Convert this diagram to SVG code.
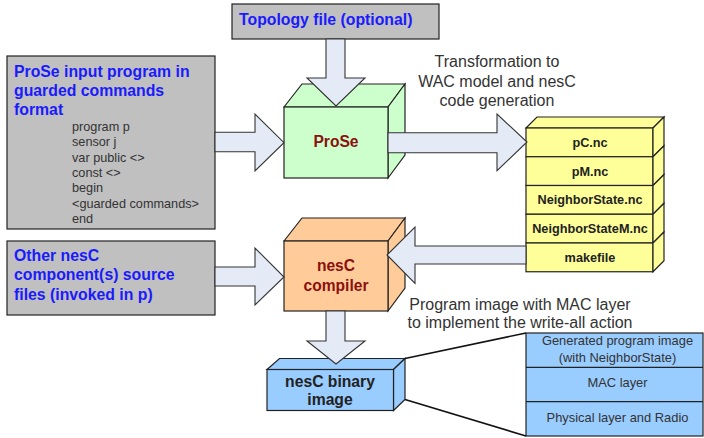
<svg xmlns="http://www.w3.org/2000/svg" width="704" height="438" viewBox="0 0 704 438">
<style>
.box{stroke:#222;stroke-width:1.2}
.gray{fill:#C0C0C0}
.green{fill:#CCFFCC}
.orange{fill:#FFCC99}
.yellow{fill:#FFFF99}
.blue{fill:#99CCFF}
.arrow{fill:#E4EBF6;stroke:#333;stroke-width:1.1;stroke-linejoin:miter}
.line{stroke:#111;stroke-width:1.6;fill:none}
text{font-family:"Liberation Sans",Arial,sans-serif}
.ttl{font-weight:bold;font-size:15.8px;fill:#1a1aff}
.code{font-size:12.7px;fill:#333}
.red{font-weight:bold;font-size:15.6px;fill:#8B1010;text-anchor:middle}
.file{font-weight:bold;font-size:12.7px;fill:#222;text-anchor:middle}
.note{font-size:16px;fill:#333;text-anchor:middle}
.layer{font-size:12.9px;fill:#333;text-anchor:middle}
.bin{font-weight:bold;font-size:15.7px;fill:#222;text-anchor:middle}
</style>

<g id="topology">
<rect class="box gray" x="232" y="4" width="207" height="35"/>
<text class="ttl" x="239" y="25">Topology file (optional)</text>
</g>

<g id="prose-input">
<rect class="box gray" x="7" y="56" width="208" height="173"/>
<text class="ttl" x="14" y="77">ProSe input program in</text>
<text class="ttl" x="14" y="96">guarded commands</text>
<text class="ttl" x="14" y="115">format</text>
<text class="code" x="72" y="131">program p</text>
<text class="code" x="72" y="146.3">sensor j</text>
<text class="code" x="72" y="161.6">var public &lt;&gt;</text>
<text class="code" x="72" y="176.9">const &lt;&gt;</text>
<text class="code" x="72" y="192.2">begin</text>
<text class="code" x="72" y="207.5">&lt;guarded commands&gt;</text>
<text class="code" x="72" y="222.8">end</text>
</g>

<g id="other-nesc">
<rect class="box gray" x="7" y="241" width="208" height="74"/>
<text class="ttl" x="14" y="261">Other nesC</text>
<text class="ttl" x="14" y="280">component(s) source</text>
<text class="ttl" x="14" y="299.5">files (invoked in p)</text>
</g>

<g id="prose">
<polygon class="box green" points="284,107 302,84 405,84 388,107"/>
<polygon class="box green" points="388,107 405,84 405,155 388,178"/>
<rect class="box green" x="284" y="107" width="104" height="71"/>
<text class="red" x="336" y="147">ProSe</text>
</g>

<g id="nesc-compiler">
<polygon class="box orange" points="284,241 302,218 405,218 388,241"/>
<polygon class="box orange" points="388,241 405,218 405,288 388,311"/>
<rect class="box orange" x="284" y="241" width="104" height="70"/>
<text class="red" x="336" y="270.7">nesC</text>
<text class="red" x="336" y="290.7">compiler</text>
</g>

<g id="files">
<polygon class="box yellow" points="526,128 537,117 664,117 653,128"/>
<rect class="box yellow" x="526" y="128" width="127" height="28.75"/>
<polygon class="box yellow" points="653,128 664,117 664,145.75 653,156.75"/>
<rect class="box yellow" x="526" y="156.75" width="127" height="28.75"/>
<polygon class="box yellow" points="653,156.75 664,145.75 664,174.5 653,185.5"/>
<rect class="box yellow" x="526" y="185.5" width="127" height="28.75"/>
<polygon class="box yellow" points="653,185.5 664,174.5 664,203.25 653,214.25"/>
<rect class="box yellow" x="526" y="214.25" width="127" height="28.75"/>
<polygon class="box yellow" points="653,214.25 664,203.25 664,232 653,243"/>
<rect class="box yellow" x="526" y="243" width="127" height="28.75"/>
<polygon class="box yellow" points="653,243 664,232 664,260.75 653,271.75"/>
<text class="file" x="590" y="146.8">pC.nc</text>
<text class="file" x="590" y="175.6">pM.nc</text>
<text class="file" x="590" y="204.3">NeighborState.nc</text>
<text class="file" x="590" y="233">NeighborStateM.nc</text>
<text class="file" x="590" y="261.8">makefile</text>
</g>

<g id="binary">
<polygon class="box blue" points="267,369.5 279.5,358.5 405,358.5 393.5,369.5"/>
<polygon class="box blue" points="393.5,369.5 405,358.5 405,399.5 393.5,410.5"/>
<rect class="box blue" x="267" y="369.5" width="126.5" height="41"/>
<text class="bin" x="330" y="386.7">nesC binary</text>
<text class="bin" x="330" y="405">image</text>
</g>

<g id="layers">
<rect class="box blue" x="526" y="333" width="177" height="103"/>
<line class="box" x1="526" y1="367.3" x2="703" y2="367.3"/>
<line class="box" x1="526" y1="401.7" x2="703" y2="401.7"/>
<text class="layer" x="617.5" y="345">Generated program image</text>
<text class="layer" x="617.5" y="361.7">(with NeighborState)</text>
<text class="layer" x="617.5" y="387.3">MAC layer</text>
<text class="layer" x="617.5" y="421.7">Physical layer and Radio</text>
</g>

<g id="labels">
<text class="note" x="497" y="67.3">Transformation to</text>
<text class="note" x="497" y="86.5">WAC model and nesC</text>
<text class="note" x="497" y="105.5">code generation</text>
<text class="note" x="520" y="310">Program image with MAC layer</text>
<text class="note" x="520" y="328.3">to implement the write-all action</text>
</g>

<g id="connectors">
<polygon class="arrow" points="326,39 345,39 345,78 365,78 336,106 307,78 326,78"/>
<polygon class="arrow" points="215,132.3 255,132.3 255,114 284,142.7 255,171 255,151.7 215,151.7"/>
<polygon class="arrow" points="388,132.7 497,132.7 497,114 527,142 497,170.7 497,152.7 388,152.7"/>
<polygon class="arrow" points="526,246 415,246 415,227 387,255 415,283.3 415,264 526,264"/>
<polygon class="arrow" points="215,267 255,267 255,248 284,277 255,305 255,286 215,286"/>
<polygon class="arrow" points="326,311 345,311 345,341 365,341 336,364 307,341 326,341"/>
<line class="line" x1="405" y1="358.5" x2="526" y2="333"/>
<line class="line" x1="405" y1="399.5" x2="526" y2="436"/>
</g>
</svg>
